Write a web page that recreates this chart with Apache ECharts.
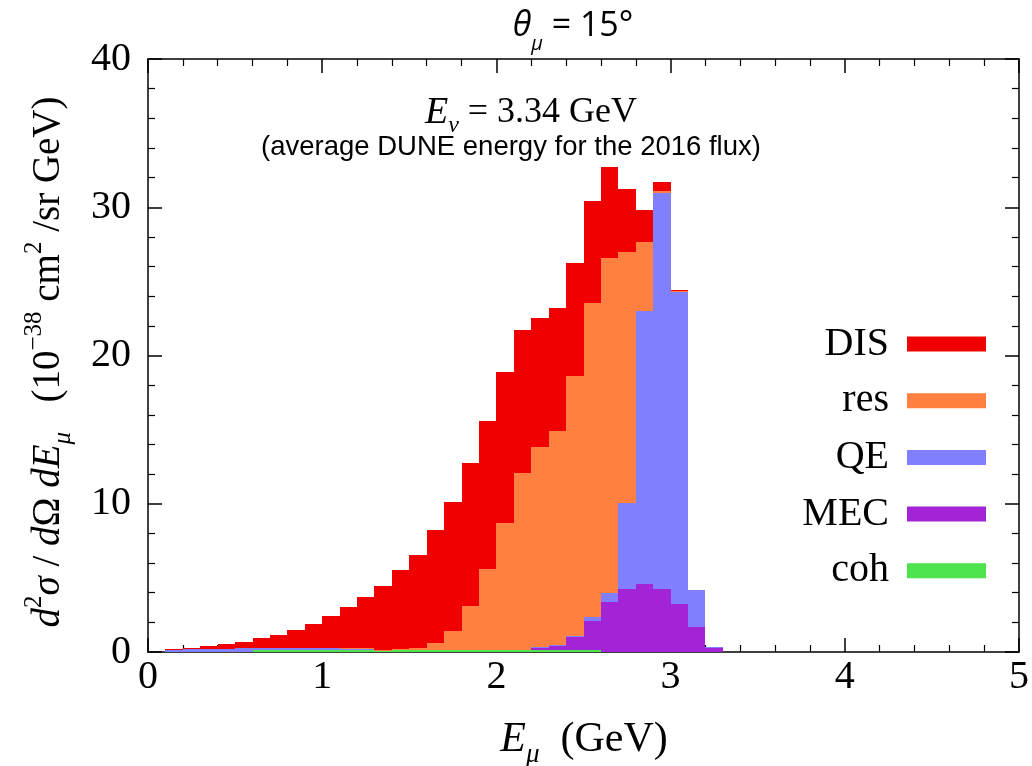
<!DOCTYPE html>
<html><head><meta charset="utf-8">
<script src="https://cdn.jsdelivr.net/npm/echarts@6/dist/echarts.min.js"></script>
<style>html,body{margin:0;padding:0;background:#fff}#c{width:1032px;height:766px}</style>
</head><body><div id="c"></div>
<script>
// lower edges of the 0.1 GeV wide bins (GeV)
const binStart = [0.1,0.2,0.3,0.4,0.5,0.6,0.7,0.8,0.9,1.0,1.1,1.2,1.3,1.4,1.5,1.6,
                  1.7,1.8,1.9,2.0,2.1,2.2,2.3,2.4,2.5,2.6,2.7,2.8,2.9,3.0,3.1,3.2];
const binWidth = 0.1;
// contributions (10^-38 cm^2/sr GeV), stacked bottom-up: coh, MEC, QE, res, DIS
const coh = [0,0,0,0,0,0.12,0.12,0.12,0.12,0.12,0.12,0.12,0.12,0.12,0.12,0.12,
             0.12,0.12,0.12,0.12,0.12,0.12,0.12,0.12,0.12,0,0,0,0,0,0,0];
const mec = [0,0,0,0,0,0,0,0,0,0,0,0,0,0,0,0,
             0,0,0,0,0,0.17,0.32,0.93,1.98,3.37,4.26,4.58,4.24,3.27,1.69,0.27];
const qe  = [0.11,0.20,0.20,0.20,0.27,0.17,0.17,0.17,0.17,0.17,0.12,0.15,0,0,0,0,
             0,0,0,0,0,0.02,0.03,0.05,0.26,0.58,5.81,18.39,26.71,21.05,2.48,0.09];
const res = [0,0,0,0,0,0,0,0,0,0,0.05,0.02,0.03,0.06,0.17,0.49,
             1.31,2.97,5.45,8.60,11.98,13.55,14.46,17.55,21.18,22.63,16.92,4.71,0.15,0.03,0,0];
const dis = [0.07,0.08,0.18,0.34,0.43,0.68,0.89,1.22,1.63,2.14,2.73,3.45,4.27,5.32,6.26,7.59,
             8.67,9.68,10.0,10.16,9.59,8.64,8.27,7.59,6.85,6.15,4.23,2.12,0.62,0.07,0,0];
const xTicks = [0,1,2,3,4,5];
const yTicks = [0,10,20,30,40];

const components = [
  {name:'coh', values:coh, color:'#4ce34c'},
  {name:'MEC', values:mec, color:'#a323d6'},
  {name:'QE',  values:qe,  color:'#8080ff'},
  {name:'res', values:res, color:'#ff8040'},
  {name:'DIS', values:dis, color:'#f00000'}
];

const cum = binStart.map(() => 0);
const series = components.map(c => {
  const data = binStart.map((x0, i) => {
    const base = cum[i];
    cum[i] += c.values[i];
    return [x0, x0 + binWidth, base, cum[i]];
  });
  return {
    type: 'custom', name: c.name, xAxisIndex: 0, yAxisIndex: 0,
    itemStyle: {color: c.color},
    encode: {x: [0, 1], y: [2, 3]},
    data: data,
    renderItem: function (params, api) {
      const p0 = api.coord([api.value(0), api.value(2)]);
      const p1 = api.coord([api.value(1), api.value(3)]);
      const xa = Math.round(p0[0]), xb = Math.round(p1[0]);
      const yb = Math.round(p0[1]), yt = Math.round(p1[1]);
      if (yb - yt <= 0 && api.value(3) - api.value(2) <= 0) return null;
      return {
        type: 'rect',
        shape: {x: xa, y: yt, width: xb - xa, height: Math.max(yb - yt, 1)},
        style: {fill: api.visual('color')}
      };
    }
  };
});

const serif = 'Liberation Serif';
const axisCommon = {
  axisLine: {show: true, onZero: false, lineStyle: {color: '#000', width: 1.5}},
  axisTick: {show: true, inside: true, length: 14, lineStyle: {color: '#000', width: 1.5}},
  minorTick: {show: true, splitNumber: 5, length: 7, lineStyle: {color: '#000', width: 1.2}},
  splitLine: {show: false}
};
function xAx(pos, labels) {
  return Object.assign({type: 'value', min: xTicks[0], max: xTicks[xTicks.length-1], interval: 1, position: pos,
    axisLabel: {show: labels, fontFamily: serif, fontSize: 40, color: '#000', margin: 5}}, axisCommon);
}
function yAx(pos, labels) {
  return Object.assign({type: 'value', min: yTicks[0], max: yTicks[yTicks.length-1], interval: 10, position: pos,
    axisLabel: {show: labels, fontFamily: serif, fontSize: 40, color: '#000', margin: 17}}, axisCommon);
}

const chart = echarts.init(document.getElementById('c'), null, {renderer: 'canvas'});
chart.setOption({
  backgroundColor: '#fff',
  animation: false,
  grid: {left: 148, right: 13, top: 59, bottom: 114, containLabel: false},
  xAxis: [xAx('bottom', true), xAx('top', false)],
  yAxis: [yAx('left', true), yAx('right', false)],
  legend: {
    orient: 'vertical', right: 41, top: 318, align: 'right',
    itemWidth: 79, itemHeight: 15, itemGap: 14.7, icon: 'rect',
    textStyle: {fontFamily: serif, fontSize: 40, color: '#000', lineHeight: 42, padding: [0, 13, 0, 0]},
    data: ['DIS', 'res', 'QE', 'MEC', 'coh']
  },
  graphic: [
    {type: 'text', x: 573, y: 26, style: {
      text: '{i|θ}{s|μ}{n| = 15°}', align: 'center', verticalAlign: 'middle',
      rich: {
        i: {fontFamily: 'Open Sans', fontStyle: 'italic', fontSize: 34, lineHeight: 56, fill: '#000', verticalAlign: 'middle'},
        s: {fontFamily: 'Open Sans', fontStyle: 'italic', fontSize: 20, lineHeight: 22, fill: '#000', verticalAlign: 'bottom'},
        n: {fontFamily: 'Open Sans', fontSize: 34, lineHeight: 56, fill: '#000', verticalAlign: 'middle'}
      }}},
    {type: 'text', x: 531, y: 113, style: {
      text: '{i|E}{s|ν}{n| = 3.34 GeV}', align: 'center', verticalAlign: 'middle',
      rich: {
        i: {fontFamily: serif, fontStyle: 'italic', fontSize: 38, lineHeight: 50, fill: '#000'},
        s: {fontFamily: serif, fontStyle: 'italic', fontSize: 24, lineHeight: 24, fill: '#000', verticalAlign: 'bottom'},
        n: {fontFamily: serif, fontSize: 36, lineHeight: 50, fill: '#000'}
      }}},
    {type: 'text', x: 511, y: 147, style: {
      text: '(average DUNE energy for the 2016 flux)', align: 'center', verticalAlign: 'middle',
      fontFamily: 'Liberation Sans', fontSize: 27.5, fill: '#000'}},
    {type: 'text', x: 584, y: 740, style: {
      text: '{i|E}{s|μ}{n|  (GeV)}', align: 'center', verticalAlign: 'middle',
      rich: {
        i: {fontFamily: serif, fontStyle: 'italic', fontSize: 42, lineHeight: 56, fill: '#000'},
        s: {fontFamily: serif, fontStyle: 'italic', fontSize: 27, lineHeight: 27, fill: '#000', verticalAlign: 'bottom'},
        n: {fontFamily: serif, fontSize: 42, lineHeight: 56, fill: '#000'}
      }}},
    {type: 'text', x: 49, y: 362, rotation: Math.PI / 2, style: {
      text: '{i|d}{p|2}{i|σ }{n|/ }{i|d}{n|Ω }{i|dE}{s|μ}{n|   (10}{p|−38}{n| cm}{p|2}{n| /sr GeV)}',
      align: 'center', verticalAlign: 'middle',
      rich: {
        i: {fontFamily: serif, fontStyle: 'italic', fontSize: 39, lineHeight: 54, fill: '#000'},
        n: {fontFamily: serif, fontSize: 39, lineHeight: 54, fill: '#000'},
        p: {fontFamily: serif, fontSize: 25, lineHeight: 25, fill: '#000', verticalAlign: 'top'},
        s: {fontFamily: serif, fontStyle: 'italic', fontSize: 25, lineHeight: 25, fill: '#000', verticalAlign: 'bottom'}
      }}}
  ],
  series: series
});
</script>
</body></html>
